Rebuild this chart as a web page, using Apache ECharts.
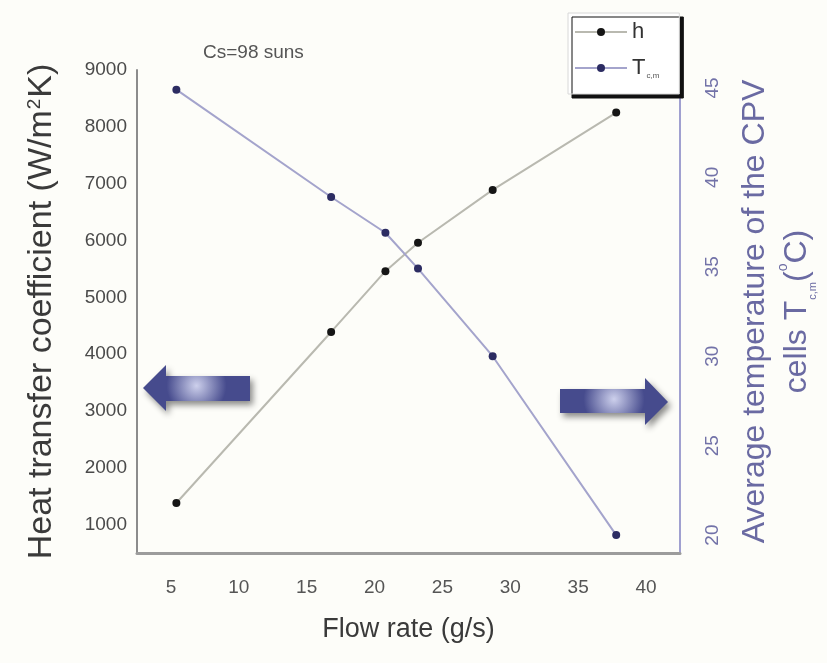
<!DOCTYPE html>
<html>
<head>
<meta charset="utf-8">
<script src="https://cdn.jsdelivr.net/npm/echarts@6/dist/echarts.min.js"></script>
<style>
  html, body { margin: 0; padding: 0; background: #fdfdf9; }
  #main { width: 827px; height: 663px; }
</style>
</head>
<body>
<div id="main"></div>
<script>
// flow rate (g/s) and the two measured series
var flowRate = [5.4, 16.8, 20.8, 23.2, 28.7, 37.8];
var hValues = [1380, 4390, 5460, 5960, 6890, 8250];
var tValues = [44.9, 38.9, 36.9, 34.9, 30.0, 20.0];
var seriesNames = ['h', 'T'];

function pairs(xs, ys) {
  return xs.map(function (x, i) { return [x, ys[i]]; });
}

var font = 'Liberation Sans, Arial, sans-serif';

var arrowFill = {
  type: 'radial',
  x: 0.5, y: 0.45, r: 0.65,
  colorStops: [
    { offset: 0, color: '#cdd0ec' },
    { offset: 1, color: '#464b8d' }
  ]
};

var myChart = echarts.init(document.getElementById('main'));
var option = {
  backgroundColor: '#fdfdf9',
  animation: false,
  textStyle: { fontFamily: font },
  grid: { left: 137, right: 147, top: 70, bottom: 110 },
  legend: {
    left: 568,
    top: 13,
    orient: 'vertical',
    itemWidth: 52,
    itemHeight: 10,
    itemGap: 14,
    padding: [8, 20, 14, 6],
    backgroundColor: '#ffffff',
    borderColor: '#d8d8d8',
    borderWidth: 1,
    shadowColor: '#111',
    shadowOffsetX: 4,
    shadowOffsetY: 4,
    shadowBlur: 0,
    data: seriesNames,
    formatter: function (name) {
      return name === 'h' ? 'h' : 'T{sub|c,m}';
    },
    textStyle: {
      fontSize: 22,
      color: '#333',
      fontFamily: font,
      rich: {
        sub: { fontSize: 8, verticalAlign: 'bottom', padding: [16, 0, 0, 1], color: '#555' }
      }
    }
  },
  xAxis: {
    type: 'value',
    min: 2.5,
    max: 42.5,
    interval: 2.5,
    name: 'Flow rate (g/s)',
    nameLocation: 'middle',
    nameGap: 63,
    nameTextStyle: { fontSize: 27, color: '#3a3a3a', fontFamily: font },
    axisLine: { lineStyle: { color: '#9c9c9c', width: 3 } },
    axisTick: { show: false },
    splitLine: { show: false },
    axisLabel: {
      fontSize: 19,
      color: '#555',
      margin: 25,
      formatter: function (v) { return v % 5 === 0 ? v : ''; }
    }
  },
  yAxis: [
    {
      type: 'value',
      min: 500,
      max: 9000,
      interval: 500,
      name: 'Heat transfer coefficient (W/m{sup|2}K)',
      nameLocation: 'middle',
      nameRotate: 90,
      nameGap: 78,
      nameTextStyle: {
        fontSize: 34,
        color: '#3a3a3a',
        fontFamily: font,
        rich: {
          sup: { fontSize: 19, verticalAlign: 'top', lineHeight: 19, padding: [0, 1, 16, 1], color: '#3a3a3a' }
        }
      },
      axisLine: { show: true, lineStyle: { color: '#8c8c8c', width: 2 } },
      axisTick: { show: false },
      splitLine: { show: false },
      axisLabel: {
        fontSize: 19,
        color: '#4a4a4a',
        margin: 10,
        formatter: function (v) { return v % 1000 === 0 ? v : ''; }
      }
    },
    {
      type: 'value',
      position: 'right',
      min: 19,
      max: 46,
      interval: 1,
      name: 'Average temperature of the CPV\ncells T{sub|c,m}({sup|o}C)',
      nameLocation: 'middle',
      nameRotate: 90,
      nameGap: 54,
      nameTextStyle: {
        fontSize: 32,
        lineHeight: 42,
        color: '#6a6aa2',
        fontFamily: font,
        rich: {
          sub: { fontSize: 11, verticalAlign: 'bottom', lineHeight: 42, padding: [16, 0, 0, 1], color: '#6a6aa2' },
          sup: { fontSize: 14, verticalAlign: 'top', lineHeight: 14, padding: [0, 0, 10, 0], color: '#6a6aa2' }
        }
      },
      axisLine: { show: true, lineStyle: { color: '#a0a0d0', width: 2 } },
      axisTick: { show: false },
      splitLine: { show: false },
      axisLabel: {
        fontSize: 19,
        color: '#7272a8',
        rotate: 90,
        margin: 23,
        formatter: function (v) { return v % 5 === 0 ? v : ''; }
      }
    }
  ],
  series: [
    {
      name: 'h',
      type: 'line',
      yAxisIndex: 0,
      symbol: 'circle',
      symbolSize: 8,
      lineStyle: { color: '#b9b9b0', width: 2 },
      itemStyle: { color: '#151515' },
      data: pairs(flowRate, hValues)
    },
    {
      name: 'T',
      type: 'line',
      yAxisIndex: 1,
      symbol: 'circle',
      symbolSize: 8,
      lineStyle: { color: '#a4a4cc', width: 2 },
      itemStyle: { color: '#2c2c62' },
      data: pairs(flowRate, tValues)
    }
  ],
  graphic: [
    {
      type: 'text',
      left: 203,
      top: 43,
      style: { text: 'Cs=98 suns', fontSize: 19, fill: '#555', fontFamily: font }
    },
    {
      type: 'polygon',
      shape: { points: [[143, 388], [166, 365], [166, 376], [250, 376], [250, 401], [166, 401], [166, 411]] },
      style: { fill: arrowFill, shadowBlur: 6, shadowColor: 'rgba(0,0,0,0.45)', shadowOffsetX: 3, shadowOffsetY: 4 }
    },
    {
      type: 'polygon',
      shape: { points: [[560, 389], [645, 389], [645, 378], [668, 402], [645, 425], [645, 413], [560, 413]] },
      style: { fill: arrowFill, shadowBlur: 6, shadowColor: 'rgba(0,0,0,0.45)', shadowOffsetX: 3, shadowOffsetY: 4 }
    }
  ]
};
myChart.setOption(option);
window.addEventListener('resize', function () {
  myChart.resize();
});
</script>
</body>
</html>
